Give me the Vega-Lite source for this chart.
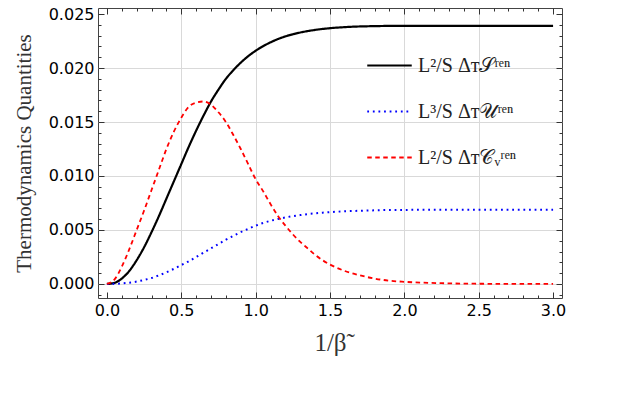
{
  "$schema": "https://vega.github.io/schema/vega-lite/v6.json",
  "width": 464,
  "height": 290,
  "autosize": {"type": "none"},
  "padding": {"left": 98, "top": 8, "right": 61, "bottom": 105},
  "background": "white",
  "config": {
    "view": {"stroke": "#444", "strokeWidth": 1},
    "axis": {"domain": false, "labelFont": "DejaVu Sans", "labelFontSize": 16, "labelColor": "#000", "tickColor": "#333", "titleFont": "Liberation Serif", "titleFontWeight": "normal", "titleColor": "#333"},
    "legend": {"orient": "none", "legendX": 268, "legendY": 34, "title": null, "labelFont": "Liberation Serif", "labelFontSize": 20, "labelColor": "#222", "symbolType": "stroke", "symbolSize": 1980, "rowPadding": 12, "labelOffset": 5}
  },
  "data": {"values": [
    {"x": 0, "S": 0, "U": 0, "C": 0},
    {"x": 0.05, "S": 0.0001, "U": 0.00001, "C": 0.0004},
    {"x": 0.1, "S": 0.0005, "U": 0.00005, "C": 0.0016},
    {"x": 0.15, "S": 0.0012, "U": 0.00012, "C": 0.0032},
    {"x": 0.2, "S": 0.0022, "U": 0.00022, "C": 0.0050},
    {"x": 0.25, "S": 0.0034, "U": 0.00037, "C": 0.0068},
    {"x": 0.3, "S": 0.0048, "U": 0.00055, "C": 0.0087},
    {"x": 0.35, "S": 0.0063, "U": 0.0008, "C": 0.0106},
    {"x": 0.4, "S": 0.0079, "U": 0.00108, "C": 0.0125},
    {"x": 0.45, "S": 0.0095, "U": 0.0014, "C": 0.0141},
    {"x": 0.5, "S": 0.0111, "U": 0.00175, "C": 0.0154},
    {"x": 0.55, "S": 0.0127, "U": 0.0021, "C": 0.0164},
    {"x": 0.6, "S": 0.0142, "U": 0.0025, "C": 0.0168},
    {"x": 0.65, "S": 0.0156, "U": 0.0029, "C": 0.0169},
    {"x": 0.7, "S": 0.0169, "U": 0.0033, "C": 0.0166},
    {"x": 0.75, "S": 0.0180, "U": 0.0037, "C": 0.0159},
    {"x": 0.8, "S": 0.0190, "U": 0.0041, "C": 0.0150},
    {"x": 0.85, "S": 0.0198, "U": 0.00445, "C": 0.0138},
    {"x": 0.9, "S": 0.0205, "U": 0.0048, "C": 0.0125},
    {"x": 0.95, "S": 0.0211, "U": 0.0051, "C": 0.0111},
    {"x": 1.0, "S": 0.0216, "U": 0.0054, "C": 0.0097},
    {"x": 1.05, "S": 0.02202, "U": 0.00565, "C": 0.0086},
    {"x": 1.1, "S": 0.02238, "U": 0.00585, "C": 0.0074},
    {"x": 1.15, "S": 0.02268, "U": 0.00602, "C": 0.0063},
    {"x": 1.2, "S": 0.02293, "U": 0.00616, "C": 0.0054},
    {"x": 1.25, "S": 0.02313, "U": 0.00628, "C": 0.0046},
    {"x": 1.3, "S": 0.02329, "U": 0.00638, "C": 0.0039},
    {"x": 1.35, "S": 0.02342, "U": 0.00647, "C": 0.0033},
    {"x": 1.4, "S": 0.02353, "U": 0.00654, "C": 0.0027},
    {"x": 1.45, "S": 0.02362, "U": 0.0066, "C": 0.0022},
    {"x": 1.5, "S": 0.02369, "U": 0.00665, "C": 0.0018},
    {"x": 1.6, "S": 0.02379, "U": 0.00673, "C": 0.0012},
    {"x": 1.7, "S": 0.02385, "U": 0.00678, "C": 0.0008},
    {"x": 1.8, "S": 0.02388, "U": 0.00682, "C": 0.0005},
    {"x": 1.9, "S": 0.0239, "U": 0.00685, "C": 0.0003},
    {"x": 2.0, "S": 0.0239, "U": 0.00686, "C": 0.0002},
    {"x": 2.25, "S": 0.0239, "U": 0.00687, "C": 0.00007},
    {"x": 2.5, "S": 0.0239, "U": 0.00688, "C": 0.00002},
    {"x": 2.75, "S": 0.0239, "U": 0.00688, "C": 0.00001},
    {"x": 3.0, "S": 0.0239, "U": 0.00688, "C": 0}
  ]},
  "transform": [{"fold": ["S", "U", "C"], "as": ["series", "value"]}],
  "layer": [
    {
      "mark": {"type": "line", "opacity": 0},
      "encoding": {
        "x": {"field": "x", "type": "quantitative", "scale": {"domain": [-0.06, 3.06], "nice": false, "zero": false},
          "axis": {"orient": "bottom", "values": [0.5, 1, 1.5, 2, 2.5], "grid": true, "gridColor": "#d9d9d9", "ticks": false, "labels": false, "title": null}},
        "y": {"field": "value", "type": "quantitative", "scale": {"domain": [-0.0013, 0.02556], "nice": false, "zero": false},
          "axis": {"orient": "left", "values": [0, 0.005, 0.01, 0.015, 0.02], "grid": true, "gridColor": "#d9d9d9", "ticks": false, "labels": false, "title": null}},
        "detail": {"field": "series"}
      }
    },
    {
      "mark": {"type": "line", "opacity": 0},
      "encoding": {
        "x": {"field": "x", "type": "quantitative",
          "axis": {"orient": "top", "values": [0, 0.5, 1, 1.5, 2, 2.5, 3], "grid": false, "tickSize": -6, "labels": false, "title": null}},
        "y": {"field": "value", "type": "quantitative",
          "axis": {"orient": "right", "values": [0, 0.005, 0.01, 0.015, 0.02, 0.025], "grid": false, "tickSize": -6, "labels": false, "title": null}},
        "detail": {"field": "series"}
      }
    },
    {
      "mark": {"type": "line", "opacity": 0},
      "encoding": {
        "x": {"field": "x", "type": "quantitative",
          "axis": {"orient": "bottom", "values": [0.1, 0.2, 0.3, 0.4, 0.6, 0.7, 0.8, 0.9, 1.1, 1.2, 1.3, 1.4, 1.6, 1.7, 1.8, 1.9, 2.1, 2.2, 2.3, 2.4, 2.6, 2.7, 2.8, 2.9], "grid": false, "tickSize": -3, "labels": false, "title": null}},
        "y": {"field": "value", "type": "quantitative",
          "axis": {"orient": "left", "values": [-0.001, 0.001, 0.002, 0.003, 0.004, 0.006, 0.007, 0.008, 0.009, 0.011, 0.012, 0.013, 0.014, 0.016, 0.017, 0.018, 0.019, 0.021, 0.022, 0.023, 0.024], "grid": false, "tickSize": -3, "labels": false, "title": null}},
        "detail": {"field": "series"}
      }
    },
    {
      "mark": {"type": "line", "opacity": 0},
      "encoding": {
        "x": {"field": "x", "type": "quantitative",
          "axis": {"orient": "top", "values": [0.1, 0.2, 0.3, 0.4, 0.6, 0.7, 0.8, 0.9, 1.1, 1.2, 1.3, 1.4, 1.6, 1.7, 1.8, 1.9, 2.1, 2.2, 2.3, 2.4, 2.6, 2.7, 2.8, 2.9], "grid": false, "tickSize": -3, "labels": false, "title": null}},
        "y": {"field": "value", "type": "quantitative",
          "axis": {"orient": "right", "values": [-0.001, 0.001, 0.002, 0.003, 0.004, 0.006, 0.007, 0.008, 0.009, 0.011, 0.012, 0.013, 0.014, 0.016, 0.017, 0.018, 0.019, 0.021, 0.022, 0.023, 0.024], "grid": false, "tickSize": -3, "labels": false, "title": null}},
        "detail": {"field": "series"}
      }
    },
    {
      "mark": {"type": "line", "interpolate": "monotone", "clip": true},
      "encoding": {
        "x": {"field": "x", "type": "quantitative",
          "axis": {"orient": "bottom", "values": [0, 0.5, 1, 1.5, 2, 2.5, 3], "format": ".1f", "grid": false, "tickSize": -6, "labelPadding": 10, "title": "1/β̃", "titleFont": "Liberation Serif", "titleFontSize": 25, "titlePadding": 12}},
        "y": {"field": "value", "type": "quantitative",
          "axis": {"orient": "left", "values": [0, 0.005, 0.01, 0.015, 0.02, 0.025], "format": ".3f", "grid": false, "tickSize": -6, "labelPadding": 10, "title": "Thermodynamics Quantities", "titleFontSize": 21, "titlePadding": 14}},
        "color": {"field": "series", "type": "nominal", "scale": {"domain": ["S", "U", "C"], "range": ["#000000", "#0000ff", "#ff0000"]},
          "legend": {"labelExpr": "datum.label == 'S' ? 'L²/S Δᴛ𝒮ʳᵉⁿ' : datum.label == 'U' ? 'L³/S Δᴛ𝒰ʳᵉⁿ' : 'L²/S Δᴛ𝒞ᵥʳᵉⁿ'"}},
        "strokeDash": {"field": "series", "type": "nominal", "scale": {"domain": ["S", "U", "C"], "range": [[1, 0], [1.8, 3.8], [4.5, 3.5]]},
          "legend": {"labelExpr": "datum.label == 'S' ? 'L²/S Δᴛ𝒮ʳᵉⁿ' : datum.label == 'U' ? 'L³/S Δᴛ𝒰ʳᵉⁿ' : 'L²/S Δᴛ𝒞ᵥʳᵉⁿ'"}},
        "strokeWidth": {"field": "series", "type": "nominal", "scale": {"domain": ["S", "U", "C"], "range": [2.2, 1.8, 2.5]},
          "legend": {"labelExpr": "datum.label == 'S' ? 'L²/S Δᴛ𝒮ʳᵉⁿ' : datum.label == 'U' ? 'L³/S Δᴛ𝒰ʳᵉⁿ' : 'L²/S Δᴛ𝒞ᵥʳᵉⁿ'"}}
      }
    }
  ],
  "resolve": {"axis": {"x": "independent", "y": "independent"}}
}
